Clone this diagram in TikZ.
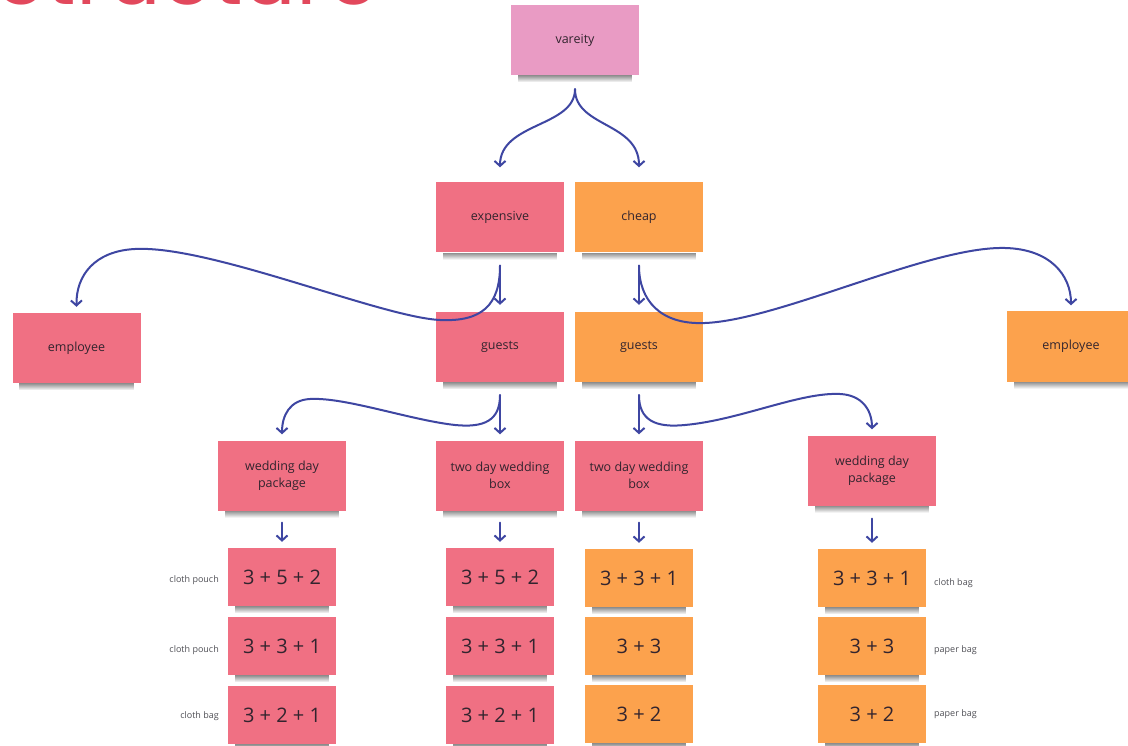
\documentclass[tikz,border=0pt]{standalone}
\usepackage{fontspec}
\setmainfont{Open Sans}
\newfontfamily\titlefont{Poppins}
\usetikzlibrary{arrows.meta,fadings}
\definecolor{notered}{RGB}{240,112,131}
\definecolor{notepink}{RGB}{233,155,196}
\definecolor{noteorange}{RGB}{252,162,77}
\definecolor{conncol}{RGB}{62,70,162}
\definecolor{titlered}{RGB}{226,72,92}
\definecolor{notetext}{RGB}{50,36,46}
\definecolor{lbltext}{RGB}{80,80,86}
\tikzset{
  note/.style={rectangle, inner sep=0pt, minimum width=128pt, minimum height=70pt,
    text=notetext, align=center, font=\fontsize{12.5}{17}\selectfont},
  rednote/.style={note, fill=notered},
  pinknote/.style={note, fill=notepink},
  orangenote/.style={note, fill=noteorange},
  numnote/.style={minimum width=108pt, minimum height=58pt, font=\fontsize{20}{24}\selectfont},
  lbl/.style={inner sep=0pt, text=lbltext, font=\fontsize{9}{11}\selectfont},
  notesh/.style={fill=black, opacity=0.45, path fading=south},
  conn/.style={draw=conncol, line width=2pt, line cap=round,
    -{Straight Barb[length=5pt,width=11pt,line width=2pt]}},
}
\begin{document}
\begin{tikzpicture}[x=1pt,y=-1pt]
\useasboundingbox (0,0) rectangle (1128,746);
\fill[white] (0,0) rectangle (1128,746);
% title (cut off at top)
\node[anchor=base west, inner sep=0pt, text=titlered, font=\titlefont\fontsize{84}{84}\selectfont] (title) at (-4,4.5) {Structure};
% top
\node[pinknote] (var) at (575,40) {vareity};
\node[rednote] (exp) at (500,217.5) {expensive};
\node[orangenote] (chp) at (639,217.5) {cheap};
% second level
\node[rednote] (empL) at (76.5,348) {employee};
\node[rednote] (gstL) at (500,347) {guests};
\node[orangenote] (gstR) at (639,347) {guests};
\node[orangenote] (empR) at (1071,346.5) {employee};
% third level
\node[rednote] (wdpL) at (282,475.5) {wedding day\\package};
\node[rednote] (tdbL) at (500,475.5) {two day wedding\\box};
\node[rednote] (tdbR) at (639,475.5) {two day wedding\\box};
\node[rednote] (wdpR) at (872,470.5) {wedding day\\package};
% number notes
\node[rednote,numnote] (a1) at (282,577) {3 + 5 + 2};
\node[rednote,numnote] (a2) at (282,646) {3 + 3 + 1};
\node[rednote,numnote] (a3) at (282,715) {3 + 2 + 1};
\node[rednote,numnote] (b1) at (500,577) {3 + 5 + 2};
\node[rednote,numnote] (b2) at (500,646) {3 + 3 + 1};
\node[rednote,numnote] (b3) at (500,715) {3 + 2 + 1};
\node[orangenote,numnote] (c1) at (639,578) {3 + 3 + 1};
\node[orangenote,numnote] (c2) at (639,646) {3 + 3};
\node[orangenote,numnote] (c3) at (639,714) {3 + 2};
\node[orangenote,numnote] (d1) at (872,578) {3 + 3 + 1};
\node[orangenote,numnote] (d2) at (872,646) {3 + 3};
\node[orangenote,numnote] (d3) at (872,714) {3 + 2};
% sticky-note shadows
\foreach \n in {var,exp,chp,empL,gstL,gstR,empR,wdpL,tdbL,tdbR,wdpR,a1,a2,a3,b1,b2,b3,c1,c2,c3,d1,d2,d3}
  \fill[notesh] ([xshift=7pt]\n.south west) rectangle ([xshift=-7pt,yshift=-7pt]\n.south east);
% side labels
\node[lbl, anchor=east] (la1) at (219,580) {cloth pouch};
\node[lbl, anchor=east] (la2) at (219,650) {cloth pouch};
\node[lbl, anchor=east] (la3) at (219,716) {cloth bag};
\node[lbl, anchor=west] (ld1) at (934,583) {cloth bag};
\node[lbl, anchor=west] (ld2) at (934,650) {paper bag};
\node[lbl, anchor=west] (ld3) at (934,714) {paper bag};
% connectors
\draw[conn] ([yshift=-14pt]var.south) .. controls +(0,38) and +(0,-45) .. ([yshift=15pt]exp.north);
\draw[conn] ([yshift=-14pt]var.south) .. controls +(0,38) and +(0,-45) .. ([yshift=15pt]chp.north);
\draw[conn] ([yshift=-13pt]exp.south) -- ([yshift=7pt]gstL.north);
\draw[conn] ([yshift=-13pt]chp.south) -- ([yshift=7pt]gstR.north);
\draw[conn] ([yshift=-13pt]exp.south) .. controls (500,305) and (482,322) .. (440,320)
  .. controls (380,317) and (210,245) .. (135,249)
  .. controls (95,251) and (76,275) .. ([yshift=6pt]empL.north);
\draw[conn] ([yshift=-13pt]chp.south) .. controls (639,300) and (660,325) .. (705,323)
  .. controls (780,320) and (930,246) .. (1005,248)
  .. controls (1050,249) and (1071,275) .. ([yshift=6pt]empR.north);
\draw[conn] ([yshift=-13pt]gstL.south) -- ([yshift=6pt]tdbL.north);
\draw[conn] ([yshift=-13pt]gstR.south) -- ([yshift=6pt]tdbR.north);
\draw[conn] ([yshift=-13pt]gstL.south) .. controls (500,420) and (485,428) .. (455,425)
  .. controls (410,420) and (345,397) .. (310,399)
  .. controls (290,400) and (282,415) .. ([yshift=6pt]wdpL.north);
\draw[conn] ([yshift=-13pt]gstR.south) .. controls (639,420) and (655,428) .. (685,425)
  .. controls (740,420) and (800,392) .. (840,394)
  .. controls (862,395) and (872,410) .. ([yshift=6pt]wdpR.north);
\draw[conn] ([yshift=-12pt]wdpL.south) -- ([yshift=6pt]a1.north);
\draw[conn] ([yshift=-12pt]tdbL.south) -- ([yshift=6pt]b1.north);
\draw[conn] ([yshift=-12pt]tdbR.south) -- ([yshift=6pt]c1.north);
\draw[conn] ([yshift=-13pt]wdpR.south) -- ([yshift=6pt]d1.north);
\end{tikzpicture}
\end{document}
